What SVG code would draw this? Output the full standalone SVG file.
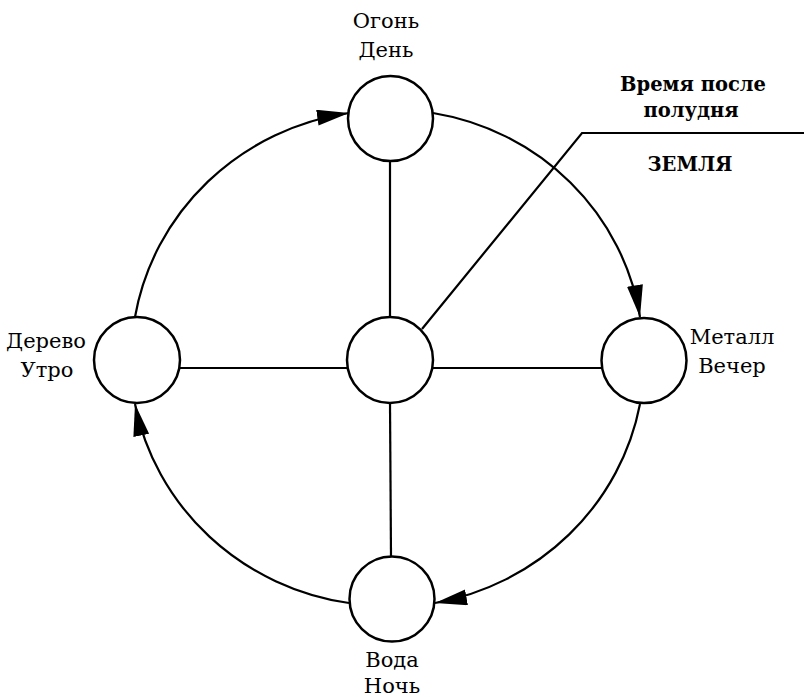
<svg xmlns="http://www.w3.org/2000/svg" width="804" height="697" viewBox="0 0 804 697">
  <style>
    .node { fill: #fff; stroke: #000; stroke-width: 2.5; }
    .edge { fill: none; stroke: #000; stroke-width: 2.2; }
    text { font-family: 'DejaVu Serif', 'Liberation Serif', serif; font-size: 21px; fill: #000; text-anchor: middle; }
    .bold { font-weight: bold; font-size: 19.5px; }
  </style>
  <defs>
    <marker id="arr" markerUnits="userSpaceOnUse" markerWidth="34" markerHeight="20" refX="32" refY="8" orient="auto">
      <path d="M0,0 L32,8 L0,16 Z" fill="#000"/>
    </marker>
  </defs>
  <rect width="804" height="697" fill="#fff"/>
  <g id="connectors">
    <line class="edge" x1="390" y1="161" x2="390" y2="317"/>
    <line class="edge" x1="390" y1="403" x2="391" y2="557"/>
    <line class="edge" x1="180" y1="368" x2="347" y2="368"/>
    <line class="edge" x1="433" y1="368" x2="602" y2="368"/>
    <path class="edge" d="M135,317 A256,249 0 0 1 349,113" marker-end="url(#arr)"/>
    <path class="edge" d="M433,113 A252,245 0 0 1 640,317" marker-end="url(#arr)"/>
    <path class="edge" d="M640,404 A256,249 0 0 1 435,603" marker-end="url(#arr)"/>
    <path class="edge" d="M349,603 A256,249 0 0 1 135,404" marker-end="url(#arr)"/>
    <polyline class="edge" points="422,329 582,133 804,133"/>
  </g>
  <g id="fire">
    <circle class="node" cx="390.5" cy="118.5" r="42.5"/>
    <text x="386" y="28">Огонь</text>
    <text x="386" y="57">День</text>
  </g>
  <g id="wood">
    <circle class="node" cx="137" cy="360" r="43"/>
    <text x="46" y="348">Дерево</text>
    <text x="47" y="377">Утро</text>
  </g>
  <g id="earth">
    <circle class="node" cx="390" cy="360" r="43"/>
  </g>
  <g id="metal">
    <circle class="node" cx="644" cy="360.5" r="42.5"/>
    <text x="732" y="344">Металл</text>
    <text x="732" y="373">Вечер</text>
  </g>
  <g id="water">
    <circle class="node" cx="392" cy="599" r="42.5"/>
    <text x="392" y="667">Вода</text>
    <text x="392" y="693">Ночь</text>
  </g>
  <g id="earth-label">
    <text class="bold" x="693" y="91">Время после</text>
    <text class="bold" x="691" y="117">полудня</text>
    <text class="bold" x="690" y="171">ЗЕМЛЯ</text>
  </g>
</svg>
